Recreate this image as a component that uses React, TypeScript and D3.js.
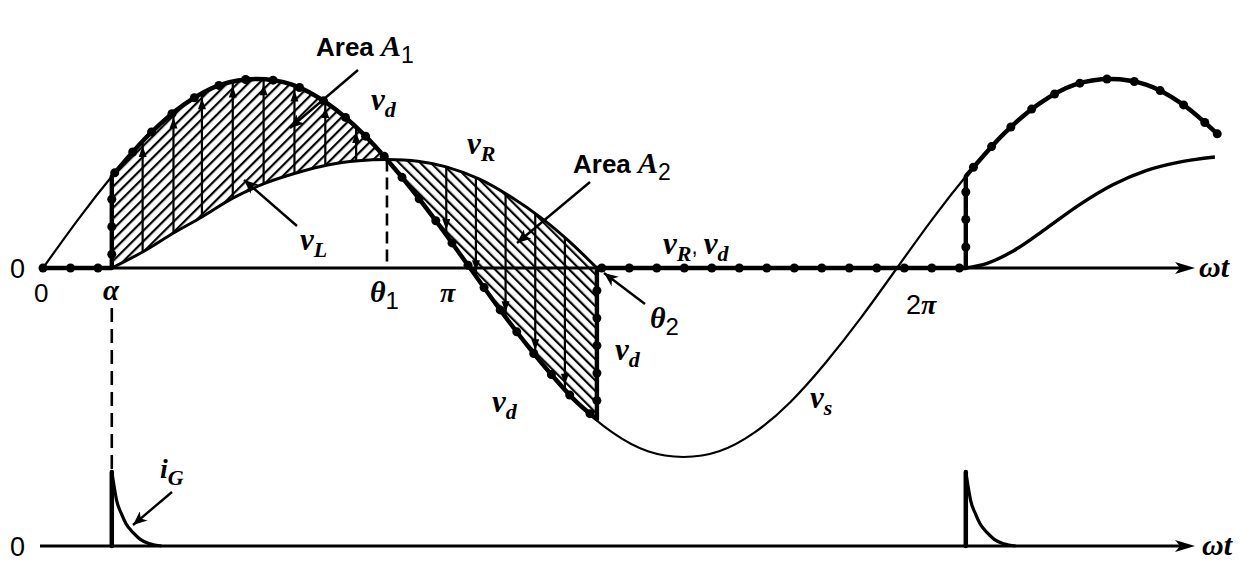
import React, { useEffect, useRef } from 'react';
import * as d3 from 'd3';

// supply voltage vs (per unit), read every 15 degrees of wt
const vsAngles = [0, 15, 30, 45, 60, 75, 90, 105, 120, 135, 150, 165, 180, 195, 210, 225, 240, 255, 270, 285, 300, 315, 330, 345, 360, 375, 390, 405, 420, 435, 450, 465, 480, 495];
const vsValues = [0, 0.26, 0.5, 0.71, 0.87, 0.97, 1, 0.97, 0.87, 0.71, 0.5, 0.26, 0, -0.26, -0.5, -0.71, -0.87, -0.97, -1, -0.97, -0.87, -0.71, -0.5, -0.26, 0, 0.26, 0.5, 0.71, 0.87, 0.97, 1, 0.97, 0.87, 0.71];

// firing / crossing angles (degrees)
const alpha = 29;
const theta1 = 145;
const theta2 = 233.5;
const alpha2 = 389;
const vdAtAlpha = 0.485;
const vdAtTheta1 = 0.574;
const vdAtTheta2 = -0.8;

// resistor voltage vR, first conduction interval
const vR1Angles = [29, 42, 55, 67, 80, 94, 106, 120, 133, 145, 158, 170, 184, 198, 210, 221, 233.5];
const vR1Values = [0, 0.085, 0.185, 0.27, 0.37, 0.45, 0.5, 0.545, 0.567, 0.574, 0.565, 0.535, 0.47, 0.37, 0.265, 0.15, 0];

// resistor voltage vR, second interval
const vR2Angles = [389, 398, 409, 423, 437, 451, 465, 479, 494];
const vR2Values = [0, 0.025, 0.09, 0.21, 0.335, 0.44, 0.515, 0.56, 0.587];

// gate current pulse, degrees after firing
const igOffsets = [0, 1, 2, 4, 6, 9, 12, 16, 21];
const igValues = [1, 0.8, 0.62, 0.44, 0.3, 0.18, 0.09, 0.03, 0];

// vL arrows drawn inside the hatched areas
const arrowsA1 = [42, 55, 67, 80, 93, 106, 119, 132];
const arrowsA2 = [170, 182.5, 195, 207.5, 220];

type P = [number, number];

const SERIF = "'Liberation Serif', 'DejaVu Serif', serif";
const SANS = "'Liberation Sans', Arial, sans-serif";

export default function App() {
  const svgRef = useRef<SVGSVGElement>(null);

  useEffect(() => {
    if (!svgRef.current) return;
    const svg = d3.select(svgRef.current);
    svg.selectAll('*').remove();

    const x = d3.scaleLinear().domain([0, 180]).range([43, 470]);
    const y = d3.scaleLinear().domain([-1, 1]).range([457, 79]);
    const yG = d3.scaleLinear().domain([0, 1]).range([546, 472]);
    const xEnd = 1195;

    const defs = svg.append('defs');
    const mkHatch = (id: string, rot: number) => {
      defs.append('pattern')
        .attr('id', id)
        .attr('patternUnits', 'userSpaceOnUse')
        .attr('width', 7.5)
        .attr('height', 7.5)
        .attr('patternTransform', `rotate(${rot})`)
        .append('line')
        .attr('x1', 2).attr('y1', -2).attr('x2', 2).attr('y2', 10)
        .attr('stroke', '#000').attr('stroke-width', 2.2);
    };
    mkHatch('hatchA1', 45);
    mkHatch('hatchA2', -45);

    defs.append('marker')
      .attr('id', 'arrow')
      .attr('markerUnits', 'userSpaceOnUse')
      .attr('markerWidth', 16).attr('markerHeight', 12)
      .attr('refX', 14).attr('refY', 6)
      .attr('orient', 'auto')
      .append('path')
      .attr('d', 'M0,0 L14,6 L0,12 L4,6 Z')
      .attr('fill', '#000');

    const straight = d3.line<P>().x(d => x(d[0])).y(d => y(d[1]));
    const smooth = d3.line<P>().x(d => x(d[0])).y(d => y(d[1])).curve(d3.curveCatmullRom.alpha(0.5));
    const mono = d3.line<P>().x(d => x(d[0])).y(d => y(d[1])).curve(d3.curveMonotoneX);
    const natural = d3.line<P>().x(d => x(d[0])).y(d => y(d[1])).curve(d3.curveNatural);
    const join = (a: string, b: string) => a + b.replace(/^M/, 'L');

    const vsPts: P[] = vsAngles.map((a, i) => [a, vsValues[i]]);
    const vR1Pts: P[] = vR1Angles.map((a, i) => [a, vR1Values[i]]);
    const vR2Pts: P[] = vR2Angles.map((a, i) => [a, vR2Values[i]]);
    const between = (lo: number, hi: number) => vsPts.filter(d => d[0] > lo && d[0] < hi);

    // hatched areas
    const a1Upper: P[] = [[alpha, vdAtAlpha], ...between(alpha, theta1), [theta1, vdAtTheta1]];
    const a1Lower = vR1Pts.filter(d => d[0] <= theta1).slice().reverse();
    const a1Path = join(smooth(a1Upper) as string, smooth(a1Lower) as string) + 'Z';
    const a2Upper = vR1Pts.filter(d => d[0] >= theta1);
    const a2Lower: P[] = [[theta2, vdAtTheta2], ...between(theta1, theta2).reverse(), [theta1, vdAtTheta1]];
    const a2Path = join(smooth(a2Upper) as string, smooth(a2Lower) as string) + 'Z';

    svg.append('path').attr('d', a1Path).attr('fill', 'url(#hatchA1)');
    svg.append('path').attr('d', a2Path).attr('fill', 'url(#hatchA2)');

    // axes
    const axis = (yy: number) => {
      svg.append('line')
        .attr('x1', 40).attr('x2', xEnd - 10).attr('y1', yy).attr('y2', yy)
        .attr('stroke', '#000').attr('stroke-width', 3);
      svg.append('path')
        .attr('d', `M${xEnd},${yy} L${xEnd - 20},${yy - 6} L${xEnd - 15},${yy} L${xEnd - 20},${yy + 6} Z`)
        .attr('fill', '#000');
    };
    axis(y(0));
    axis(yG(0));

    // vs thin line
    const vsNode = svg.append('path')
      .attr('d', natural(vsPts) as string)
      .attr('fill', 'none').attr('stroke', '#000').attr('stroke-width', 2.2)
      .node() as SVGPathElement;

    // vR curves
    const vR1Node = svg.append('path')
      .attr('d', smooth(vR1Pts) as string)
      .attr('fill', 'none').attr('stroke', '#000').attr('stroke-width', 3)
      .node() as SVGPathElement;
    svg.append('path')
      .attr('d', mono(vR2Pts) as string)
      .attr('fill', 'none').attr('stroke', '#000').attr('stroke-width', 3.4);

    const yOn = (node: SVGPathElement, px: number) => {
      let lo = 0;
      let hi = node.getTotalLength();
      for (let i = 0; i < 30; i++) {
        const mid = (lo + hi) / 2;
        if (node.getPointAtLength(mid).x < px) lo = mid; else hi = mid;
      }
      return node.getPointAtLength(lo).y;
    };

    // vL arrows inside areas
    const arrowHead = (px: number, tipY: number, dir: number) => {
      svg.append('path')
        .attr('d', `M${px},${tipY} L${px - 4},${tipY - dir * 11} L${px + 4},${tipY - dir * 11} Z`)
        .attr('fill', '#000');
    };
    arrowsA1.forEach(a => {
      const px = x(a);
      const yTop = yOn(vsNode, px);
      const yBot = yOn(vR1Node, px);
      svg.append('line').attr('x1', px).attr('x2', px).attr('y1', yBot).attr('y2', yTop)
        .attr('stroke', '#000').attr('stroke-width', 2.2);
      arrowHead(px, yTop + 5, -1);
    });
    arrowsA2.forEach(a => {
      const px = x(a);
      const yTop = yOn(vR1Node, px);
      const yBot = yOn(vsNode, px);
      svg.append('line').attr('x1', px).attr('x2', px).attr('y1', yTop).attr('y2', yBot)
        .attr('stroke', '#000').attr('stroke-width', 2.2);
      arrowHead(px, yBot - 5, 1);
    });

    // vd thick dotted line
    const seg1: P[] = [[0, 0], [alpha, 0], [alpha, vdAtAlpha]];
    const arc1: P[] = [[alpha, vdAtAlpha], ...between(alpha, theta2), [theta2, vdAtTheta2]];
    const seg2: P[] = [[theta2, vdAtTheta2], [theta2, 0], [alpha2, 0], [alpha2, vdAtAlpha]];
    const arc2: P[] = [[alpha2, vdAtAlpha], ...vsPts.filter(d => d[0] > alpha2)];
    let vdD = straight(seg1) as string;
    vdD = join(vdD, smooth(arc1) as string);
    vdD = join(vdD, straight(seg2) as string);
    vdD = join(vdD, smooth(arc2) as string);
    const vdNode = svg.append('path')
      .attr('d', vdD)
      .attr('fill', 'none').attr('stroke', '#000').attr('stroke-width', 4.4)
      .attr('stroke-linejoin', 'round')
      .node() as SVGPathElement;
    const total = vdNode.getTotalLength();
    const dots: { x: number; y: number }[] = [];
    for (let s = 0; s <= total; s += 27.5) {
      const p = vdNode.getPointAtLength(s);
      dots.push({ x: p.x, y: p.y });
    }
    const last = vdNode.getPointAtLength(total);
    dots.push({ x: last.x, y: last.y });
    svg.append('g').selectAll('circle').data(dots).enter().append('circle')
      .attr('cx', d => d.x).attr('cy', d => d.y).attr('r', 4.5).attr('fill', '#000');

    // dashed guides
    svg.append('line')
      .attr('x1', x(theta1)).attr('x2', x(theta1))
      .attr('y1', y(vdAtTheta1)).attr('y2', y(0))
      .attr('stroke', '#000').attr('stroke-width', 2.6).attr('stroke-dasharray', '12,6');
    svg.append('line')
      .attr('x1', x(alpha)).attr('x2', x(alpha))
      .attr('y1', 308).attr('y2', yG(1))
      .attr('stroke', '#000').attr('stroke-width', 2.6).attr('stroke-dasharray', '14,7');

    // gate current pulses
    [alpha, alpha2].forEach(a => {
      svg.append('line')
        .attr('x1', x(a)).attr('x2', x(a)).attr('y1', yG(0)).attr('y2', yG(1))
        .attr('stroke', '#000').attr('stroke-width', 4.5).attr('stroke-linecap', 'round');
      const gl = d3.line<number>()
        .x((_, i) => x(a + igOffsets[i]))
        .y(v => yG(v))
        .curve(d3.curveMonotoneX);
      svg.append('path')
        .attr('d', gl(igValues) as string)
        .attr('fill', 'none').attr('stroke', '#000').attr('stroke-width', 3.2);
    });

    // leader arrows
    const leader = (x1: number, y1: number, x2: number, y2: number) => {
      svg.append('line')
        .attr('x1', x1).attr('y1', y1).attr('x2', x2).attr('y2', y2)
        .attr('stroke', '#000').attr('stroke-width', 2.4)
        .attr('marker-end', 'url(#arrow)');
    };
    leader(358, 70, 290, 128);
    leader(590, 182, 517, 243);
    leader(297, 226, 244, 180);
    leader(645, 304, 604, 273);
    leader(172, 492, 133, 525);

    // labels
    const label = (lx: number, ly: number, parts: { t: string; f?: 'sans' | 'serif'; sub?: boolean; size?: number; bold?: boolean }[]) => {
      const t = svg.append('text').attr('x', lx).attr('y', ly).attr('fill', '#000');
      let lowered = false;
      parts.forEach(p => {
        const ts = t.append('tspan').text(p.t);
        const serif = p.f !== 'sans';
        ts.attr('font-family', serif ? SERIF : SANS)
          .attr('font-style', serif ? 'italic' : 'normal')
          .attr('font-weight', serif || p.bold ? 'bold' : 'normal')
          .attr('font-size', p.size ?? (p.sub ? 22 : 31));
        if (p.sub && !lowered) { ts.attr('dy', 7); lowered = true; }
        if (!p.sub && lowered) { ts.attr('dy', -7); lowered = false; }
      });
      return t;
    };

    label(316, 56, [{ t: 'Area ', f: 'sans', size: 26, bold: true }, { t: 'A', size: 30 }, { t: '1', f: 'sans', sub: true, size: 23 }]);
    label(573, 173, [{ t: 'Area ', f: 'sans', size: 26, bold: true }, { t: 'A', size: 30 }, { t: '2', f: 'sans', sub: true, size: 23 }]);
    label(371, 110, [{ t: 'v' }, { t: 'd', sub: true }]);
    label(467, 154, [{ t: 'v' }, { t: 'R', sub: true }]);
    label(300, 250, [{ t: 'v' }, { t: 'L', sub: true }]);
    label(663, 254, [{ t: 'v' }, { t: 'R', sub: true }, { t: ', ', f: 'sans', size: 22 }, { t: 'v' }, { t: 'd', sub: true }]);
    label(615, 360, [{ t: 'v' }, { t: 'd', sub: true }]);
    label(492, 412, [{ t: 'v' }, { t: 'd', sub: true }]);
    label(810, 408, [{ t: 'v' }, { t: 's', sub: true }]);
    label(160, 478, [{ t: 'i', size: 28 }, { t: 'G', sub: true }]);

    label(10, 278, [{ t: '0', f: 'sans', size: 27 }]);
    label(10, 556, [{ t: '0', f: 'sans', size: 27 }]);
    label(34, 302, [{ t: '0', f: 'sans', size: 26 }]);
    label(103, 300, [{ t: 'α', size: 29 }]);
    label(370, 302, [{ t: 'θ', size: 30 }, { t: '1', f: 'sans', sub: true, size: 24 }]);
    label(440, 302, [{ t: 'π', size: 28 }]);
    label(650, 328, [{ t: 'θ', size: 30 }, { t: '2', f: 'sans', sub: true, size: 24 }]);
    label(906, 314, [{ t: '2', f: 'sans', size: 27 }, { t: 'π', size: 28 }]);
    label(1199, 277, [{ t: 'ωt', size: 30 }]);
    label(1202, 555, [{ t: 'ωt', size: 30 }]);
  }, []);

  return (
    <svg
      ref={svgRef}
      width={1250}
      height={585}
      style={{ position: 'absolute', left: 0, top: 0, background: '#fff' }}
    />
  );
}
